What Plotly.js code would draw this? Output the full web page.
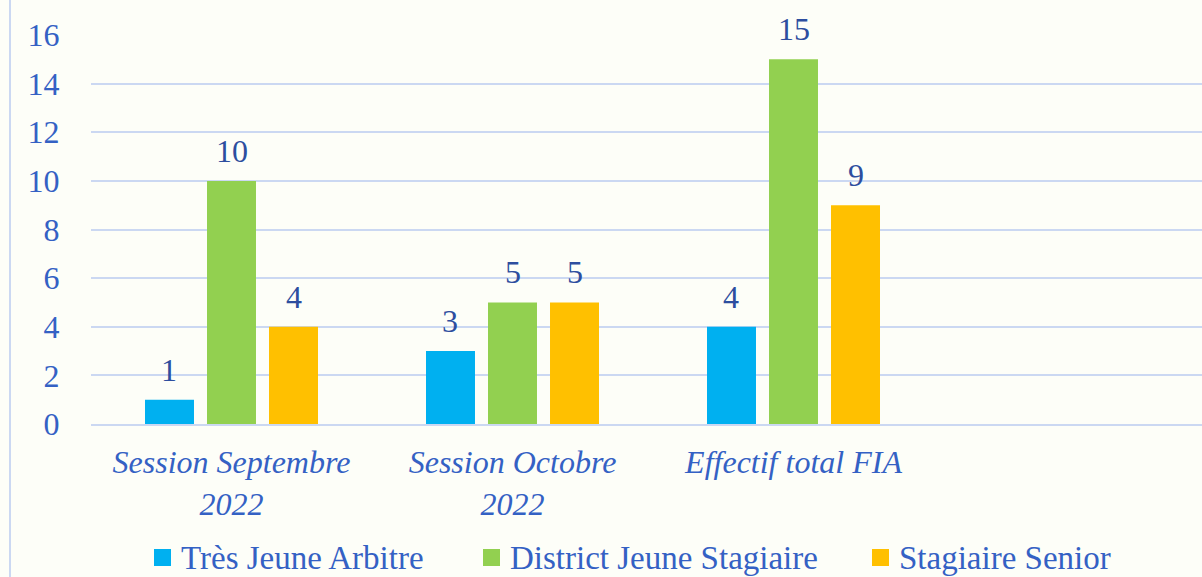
<!DOCTYPE html>
<html><head><meta charset="utf-8">
<script src="https://cdn.plot.ly/plotly-3.0.1.min.js"></script>
<style>html,body{margin:0;padding:0;background:#FDFEF8;}#chart{width:1202px;height:577px;}</style>
</head><body><div id="chart"></div>
<script>
const categories = ["Session Septembre<br>2022", "Session Octobre<br>2022", "Effectif total FIA"];
const seriesNames = ["Très Jeune Arbitre", "District Jeune Stagiaire", "Stagiaire Senior"];
const tresJeuneArbitre = [1, 3, 4];
const districtJeuneStagiaire = [10, 5, 15];
const stagiaireSenior = [4, 5, 9];
const seriesColors = ["#00B0F0", "#92D050", "#FFC000"];
const yTicks = [0, 2, 4, 6, 8, 10, 12, 14, 16];

const values = [tresJeuneArbitre, districtJeuneStagiaire, stagiaireSenior];
const xPos = categories.map((c, i) => i);
const bargap = 0.338, bargroupgap = 0.21;
const slot = (1 - bargap) / values.length;

const fontFam = 'Liberation Serif, DejaVu Serif, serif';
const tickColor = '#3461C4';
const labelColor = '#2D4E9F';
const gridColor = '#CBD8F2';
const W = 1202, H = 577;
const plotLeft = 91, plotTop = 35, plotBottom = 424;
const plotWidth = W - plotLeft, plotHeight = plotBottom - plotTop, catWidth = 281;

const traces = values.map((v, k) => ({type: 'bar', x: xPos, y: v, name: seriesNames[k],
  marker: {color: seriesColors[k]}, showlegend: false, hoverinfo: 'y'}));

const annotations = [];
values.forEach((v, k) => {
  v.forEach((val, i) => {
    annotations.push({x: i + (k - (values.length - 1) / 2) * slot, y: val, xref: 'x', yref: 'y',
      text: String(val), showarrow: false, yanchor: 'bottom', yshift: 10,
      font: {family: fontFam, size: 32, color: labelColor}});
  });
});

// manual legend (layout positions in pixels -> paper)
const px = x => (x - plotLeft) / plotWidth;
const py = y => (plotBottom - y) / plotHeight;
const legendSquareX = [154, 483, 872];
const legendTop = 549, legendSize = 17;
const shapes = [{type: 'line', xref: 'paper', yref: 'paper', x0: px(10), x1: px(10),
  y0: py(H), y1: py(0), line: {color: gridColor, width: 2}}];
seriesNames.forEach((n, k) => {
  shapes.push({type: 'rect', xref: 'paper', yref: 'paper', x0: px(legendSquareX[k]), x1: px(legendSquareX[k] + legendSize),
    y0: py(legendTop + legendSize), y1: py(legendTop), line: {width: 0}, fillcolor: seriesColors[k]});
  annotations.push({xref: 'paper', yref: 'paper', x: px(legendSquareX[k] + legendSize + 8), y: py(legendTop + legendSize / 2),
    xanchor: 'left', yanchor: 'middle', text: n, showarrow: false,
    font: {family: fontFam, size: 33, color: tickColor}});
});

const layout = {
  width: W, height: H,
  paper_bgcolor: '#FDFEF8', plot_bgcolor: '#FDFEF8',
  margin: {l: plotLeft, r: 0, t: plotTop, b: H - plotBottom},
  barmode: 'group', bargap: bargap, bargroupgap: bargroupgap,
  showlegend: false,
  font: {family: fontFam, color: tickColor},
  xaxis: {range: [-0.5, -0.5 + plotWidth / catWidth], tickvals: xPos, ticktext: categories,
    showgrid: false, zeroline: false, showline: true, linecolor: gridColor, linewidth: 2,
    ticks: 'outside', ticklen: 9, tickcolor: 'rgba(0,0,0,0)',
    tickfont: {family: fontFam, size: 32, color: tickColor, style: 'italic'}},
  yaxis: {range: [0, 16], tickvals: yTicks, showgrid: true, gridcolor: gridColor, gridwidth: 2,
    zeroline: false, showline: false, ticks: 'outside', ticklen: 24, tickcolor: 'rgba(0,0,0,0)',
    tickfont: {family: fontFam, size: 32, color: tickColor}},
  annotations: annotations,
  shapes: shapes
};

Plotly.newPlot('chart', traces, layout, {displayModeBar: false, staticPlot: true});
</script></body></html>
